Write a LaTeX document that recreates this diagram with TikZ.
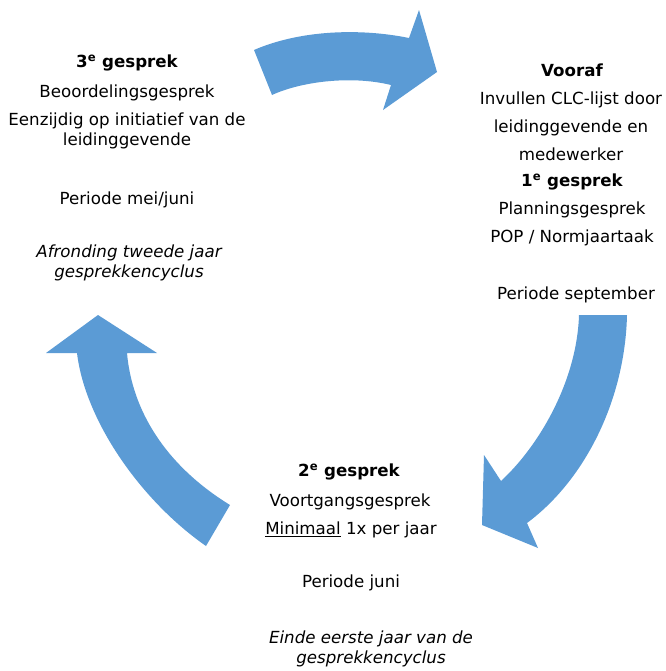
\documentclass[tikz,border=0pt]{standalone}
\usepackage{fontspec}
\setmainfont{DejaVu Sans}
\usepackage{xcolor}
\usetikzlibrary{positioning}
\definecolor{arrowblue}{RGB}{91,155,213}

\begin{document}
\begin{tikzpicture}[x=0.75pt,y=-0.75pt,
    txt/.style={align=center,inner sep=0pt,font=\fontsize{12.5}{14.5}\selectfont},
    wide/.style={align=center,inner sep=0pt,font=\fontsize{12.5}{21}\selectfont},
    ttl/.style={txt,font=\fontsize{12.5}{14.5}\selectfont\bfseries},
    note/.style={txt,font=\fontsize{12.5}{14.5}\selectfont\itshape},
    bigarrow/.style={fill=arrowblue,draw=none}]
\useasboundingbox (0,0) rectangle (665,671);

\fill[bigarrow] (254,50) .. controls (300,30) and (360,28) .. (409,38) -- (419,10) -- (437,72) -- (383,110) -- (391,85) .. controls (350,75) and (300,82) .. (272,95) -- cycle;
\fill[bigarrow] (579,315) -- (627,315) .. controls (625,400) and (585,480) .. (527,523) -- (538,548) -- (482,525) -- (484,455) -- (501,481) .. controls (540,445) and (577,380) .. (579,315) -- cycle;
\fill[bigarrow] (206,546) .. controls (140,500) and (85,420) .. (77,353) -- (46,353) -- (98,315) -- (157,353) -- (127,353) .. controls (132,410) and (165,465) .. (230,505) -- cycle;

\node[ttl] (gesprek3) at (127,63) {3\textsuperscript{e} gesprek};
\node[txt] (beoordeling) at (127,93) {Beoordelingsgesprek};
\node[txt] (eenzijdig) at (127,131) {Eenzijdig op initiatief van de\\leidinggevende};
\node[txt] (periode3) at (127,200) {Periode mei/juni};
\node[note] (afronding) at (129,263) {Afronding tweede jaar\\gesprekkencyclus};

\node[ttl] (vooraf) at (572,70) {Vooraf};
\node[wide] (clc) at (571,126) {Invullen CLC-lijst door\\leidinggevende en\\medewerker};
\node[ttl] (gesprek1) at (572,182) {1\textsuperscript{e} gesprek};
\node[wide] (planning) at (572,224) {Planningsgesprek\\POP / Normjaartaak};
\node[txt] (periode1) at (576,295) {Periode september};

\node[ttl] (gesprek2) at (349,472) {2\textsuperscript{e} gesprek};
\node[txt] (voortgang) at (350,502) {Voortgangsgesprek};
\node[txt] (minimaal) at (351,530) {\underline{Minimaal} 1x per jaar};
\node[txt] (periode2) at (351,583) {Periode juni};
\node[note] (einde) at (371,649) {Einde eerste jaar van de\\gesprekkencyclus};
\end{tikzpicture}
\end{document}
